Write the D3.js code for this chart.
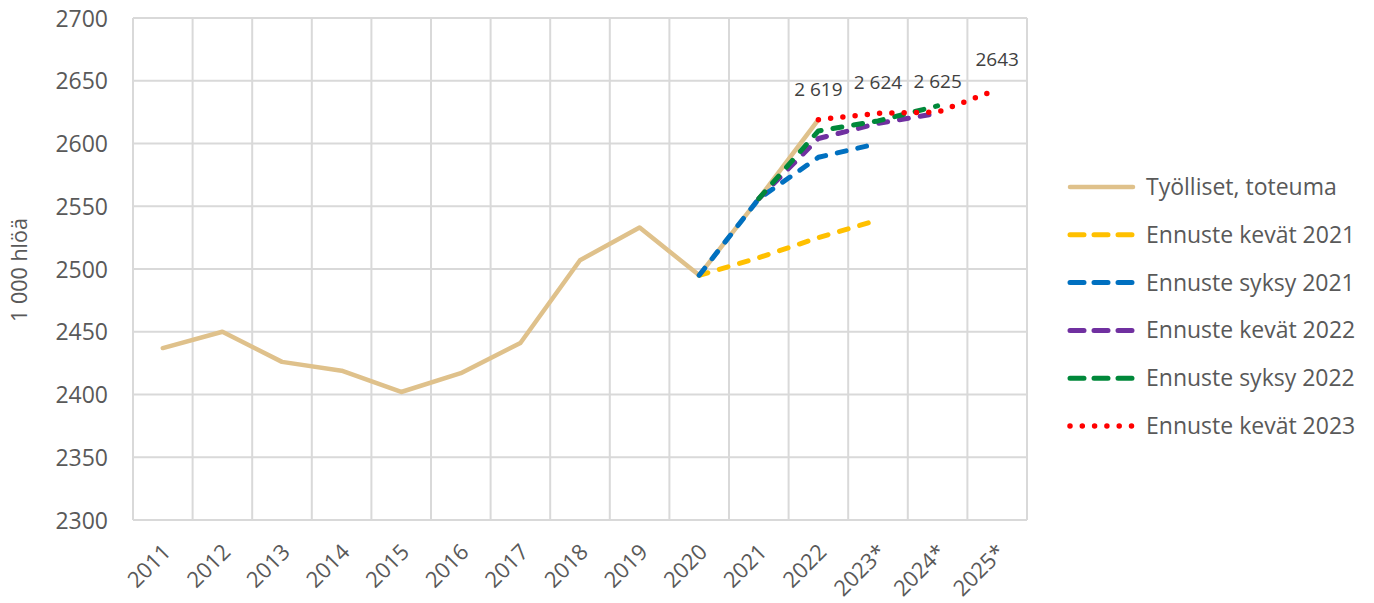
<!DOCTYPE html>
<html><head><meta charset="utf-8">
<script src="https://cdn.jsdelivr.net/npm/d3@7"></script>
<style>
html,body{margin:0;padding:0;background:#fff;}
svg{display:block;font-family:"Open Sans","Noto Sans",sans-serif;}
</style></head>
<body>
<svg id="chart" width="1374" height="603"></svg>
<script>
const categories = ["2011","2012","2013","2014","2015","2016","2017","2018","2019","2020","2021","2022","2023*","2024*","2025*"];
const toteuma      = [2437,2450,2426,2419,2402,2417,2441,2507,2533,2495,2556,2619,null,null,null];
const kevat2021    = [null,null,null,null,null,null,null,null,null,2495,2509,2525,2539,null,null];
const syksy2021    = [null,null,null,null,null,null,null,null,null,2495,2556,2589,2600,null,null];
const kevat2022    = [null,null,null,null,null,null,null,null,null,null,2556,2604,2616,2624,null];
const syksy2022    = [null,null,null,null,null,null,null,null,null,null,2556,2610,2618,2630,null];
const kevat2023    = [null,null,null,null,null,null,null,null,null,null,null,2619,2624,2625,2643];
const seriesNames  = ["Työlliset, toteuma","Ennuste kevät 2021","Ennuste syksy 2021","Ennuste kevät 2022","Ennuste syksy 2022","Ennuste kevät 2023"];
const labelIndex   = [11,12,13,14];
const labelTexts   = ["2 619","2 624","2 625","2643"];
const yTicks       = [2300,2350,2400,2450,2500,2550,2600,2650,2700];
const yTitle       = "1 000 hlöä";

const series = [
  {name:seriesNames[0], values:toteuma,   color:"#dfc18b", width:4.5, dash:null, legendDash:null, cap:"round"},
  {name:seriesNames[1], values:kevat2021, color:"#ffc000", width:5, dash:"9,12", legendDash:"14,10", cap:"round"},
  {name:seriesNames[2], values:syksy2021, color:"#0070c0", width:5, dash:"9,12", legendDash:"14,10", cap:"round"},
  {name:seriesNames[3], values:kevat2022, color:"#7030a0", width:5, dash:"9,12", legendDash:"14,10", cap:"round"},
  {name:seriesNames[4], values:syksy2022, color:"#00883a", width:5, dash:"9,12", legendDash:"14,10", cap:"round"},
  {name:seriesNames[5], values:kevat2023, color:"#ff0000", width:5.5, dash:"0,12.3", legendDash:"0,12.3", cap:"round"}
];

const svg = d3.select("#chart");
const pLeft = 133, pRight = 1027, pTop = 18, pBottom = 520;
const x = d3.scaleBand().domain(categories).range([pLeft, pRight]).padding(0);
const y = d3.scaleLinear().domain([2300, 2700]).range([pBottom, pTop]);
const cx = c => x(c) + x.bandwidth()/2;

// horizontal gridlines
svg.append("g").selectAll("line").data(yTicks).join("line")
  .attr("x1", pLeft).attr("x2", pRight)
  .attr("y1", d => y(d)).attr("y2", d => y(d))
  .attr("stroke", "#d9d9d9").attr("stroke-width", 2);
// vertical gridlines at band boundaries
const vb = categories.map(c => x(c)).concat([pRight]);
svg.append("g").selectAll("line").data(vb).join("line")
  .attr("x1", d => d).attr("x2", d => d)
  .attr("y1", pTop).attr("y2", pBottom)
  .attr("stroke", "#d9d9d9").attr("stroke-width", 2);

// y axis
const yAxis = d3.axisLeft(y).tickValues(yTicks).tickSize(0).tickPadding(0).tickFormat(d3.format("d"));
const gy = svg.append("g").attr("transform", `translate(108,0)`).call(yAxis);
gy.select(".domain").remove();
gy.selectAll("text").attr("fill", "#595959").attr("font-size", 23).attr("dy", "0.35em")
  .attr("font-family", '"Open Sans","Noto Sans",sans-serif');

// x axis
const xAxis = d3.axisBottom(x).tickSize(0).tickPadding(0);
const gx = svg.append("g").attr("transform", `translate(0,${pBottom})`).call(xAxis);
gx.select(".domain").remove();
gx.selectAll("text")
  .attr("fill", "#595959").attr("font-size", 22)
  .attr("font-family", '"Open Sans","Noto Sans",sans-serif')
  .attr("text-anchor", "end")
  .attr("dy", "0.35em")
  .attr("transform", "translate(4,28) rotate(-45)");

// y title
svg.append("text").attr("transform", `translate(27,270) rotate(-90)`)
  .attr("text-anchor", "middle").attr("fill", "#595959").attr("font-size", 21.5)
  .text(yTitle);

// lines
const line = d3.line().defined(d => d.v != null).x(d => cx(d.c)).y(d => y(d.v));
series.forEach(s => {
  const pts = categories.map((c,i) => ({c, v: s.values[i]}));
  svg.append("path").datum(pts)
    .attr("d", line)
    .attr("fill", "none").attr("stroke", s.color).attr("stroke-width", s.width)
    .attr("stroke-linecap", s.cap).attr("stroke-linejoin", "round")
    .attr("stroke-dasharray", s.dash);
});

// data labels for last series
svg.append("g").selectAll("text").data(labelIndex).join("text")
  .attr("x", (d) => cx(categories[d]))
  .attr("y", (d) => y(kevat2023[d]) - 24)
  .attr("text-anchor", "middle").attr("fill", "#404040").attr("font-size", 19)
  .text((d,i) => labelTexts[i]);

// legend
const lg = svg.append("g");
series.forEach((s,i) => {
  const yy = 187 + i*47.8;
  lg.append("line").attr("x1", 1070).attr("x2", 1133).attr("y1", yy).attr("y2", yy)
    .attr("stroke", s.color).attr("stroke-width", s.width)
    .attr("stroke-linecap", "round").attr("stroke-dasharray", s.legendDash);
  lg.append("text").attr("x", 1146).attr("y", yy).attr("dy", "0.35em")
    .attr("fill", "#595959").attr("font-size", 23).text(s.name);
});
</script>
</body></html>
